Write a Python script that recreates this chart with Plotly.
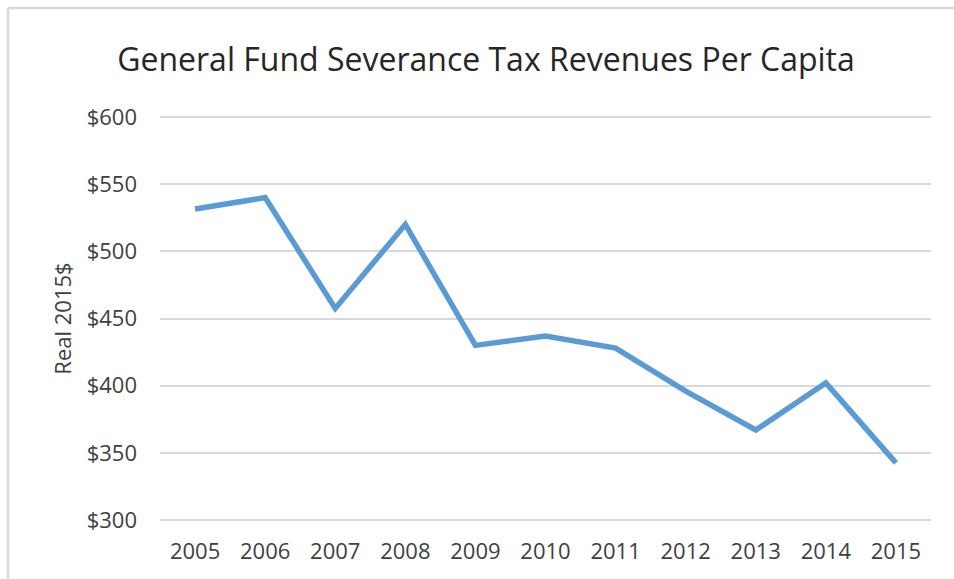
import plotly.graph_objects as go

# Annual general fund severance tax revenues per capita (real 2015 dollars)
years = ["2005", "2006", "2007", "2008", "2009", "2010",
         "2011", "2012", "2013", "2014", "2015"]
revenue_per_capita = [531.5, 540, 457.5, 520, 430, 437, 428, 396, 367, 402, 342.5]
y_ticks = [300, 350, 400, 450, 500, 550, 600]
y_tick_labels = ["$300", "$350", "$400", "$450", "$500", "$550", "$600"]

W, H = 954, 579
L, R, T, B = 160, 23, 115, 57
plot_w = W - L - R
plot_h = H - T - B
# small vertical padding so the $300 and $600 gridlines stay visible
y_pad = 300 * 2 / (plot_h - 4)

fig = go.Figure()
fig.add_trace(go.Scatter(
    x=years, y=revenue_per_capita, mode="lines",
    line=dict(color="#5b9bd5", width=5.5),
    hoverinfo="x+y",
))

font_family = "Open Sans, sans-serif"

fig.update_layout(
    width=W, height=H,
    margin=dict(l=L, r=R, t=T, b=B, autoexpand=False),
    paper_bgcolor="white", plot_bgcolor="white",
    showlegend=False,
    font=dict(family=font_family, color="#404040"),
    title=dict(
        text="General Fund Severance Tax Revenues Per Capita",
        font=dict(size=32, color="#262626", family=font_family),
        x=486 / W, xanchor="center", y=1 - 60 / H, yanchor="middle",
    ),
    xaxis=dict(
        type="category", range=[-0.5, len(years) - 0.5],
        showgrid=False, zeroline=False, automargin=False,
        showline=False, ticks="", tickfont=dict(size=22, color="#404040"),
        ticklabelstandoff=14,
    ),
    yaxis=dict(
        range=[300 - y_pad, 600 + y_pad], tickvals=y_ticks, ticktext=y_tick_labels,
        showgrid=True, gridcolor="#d9d9d9", gridwidth=1.5, automargin=False,
        zeroline=False, showline=False, ticks="",
        tickfont=dict(size=22, color="#404040"),
        ticklabelstandoff=22,
        title=dict(text="Real 2015$", font=dict(size=22, color="#404040"), standoff=8),
    ),
)

# light outer frame of the chart: only its top and left edges lie on the page
frame_left = (8 - L) / plot_w
frame_top = (H - B - 8) / plot_h
frame_right = (W - L) / plot_w
frame_bottom = (H - B - H) / plot_h
frame_line = dict(color="#d9d9d9", width=2.5)
fig.add_shape(type="line", xref="paper", yref="paper",
              x0=frame_left, x1=frame_right, y0=frame_top, y1=frame_top,
              line=frame_line, layer="below")
fig.add_shape(type="line", xref="paper", yref="paper",
              x0=frame_left, x1=frame_left, y0=frame_top, y1=frame_bottom,
              line=frame_line, layer="below")

# keep the page itself from scrolling around the fixed-size figure
page_style = (
    "document.documentElement.style.overflow='hidden';"
    "document.body.style.margin='0';"
    "document.body.style.overflow='hidden';"
)

fig.write_html("out.html", post_script=page_style)
